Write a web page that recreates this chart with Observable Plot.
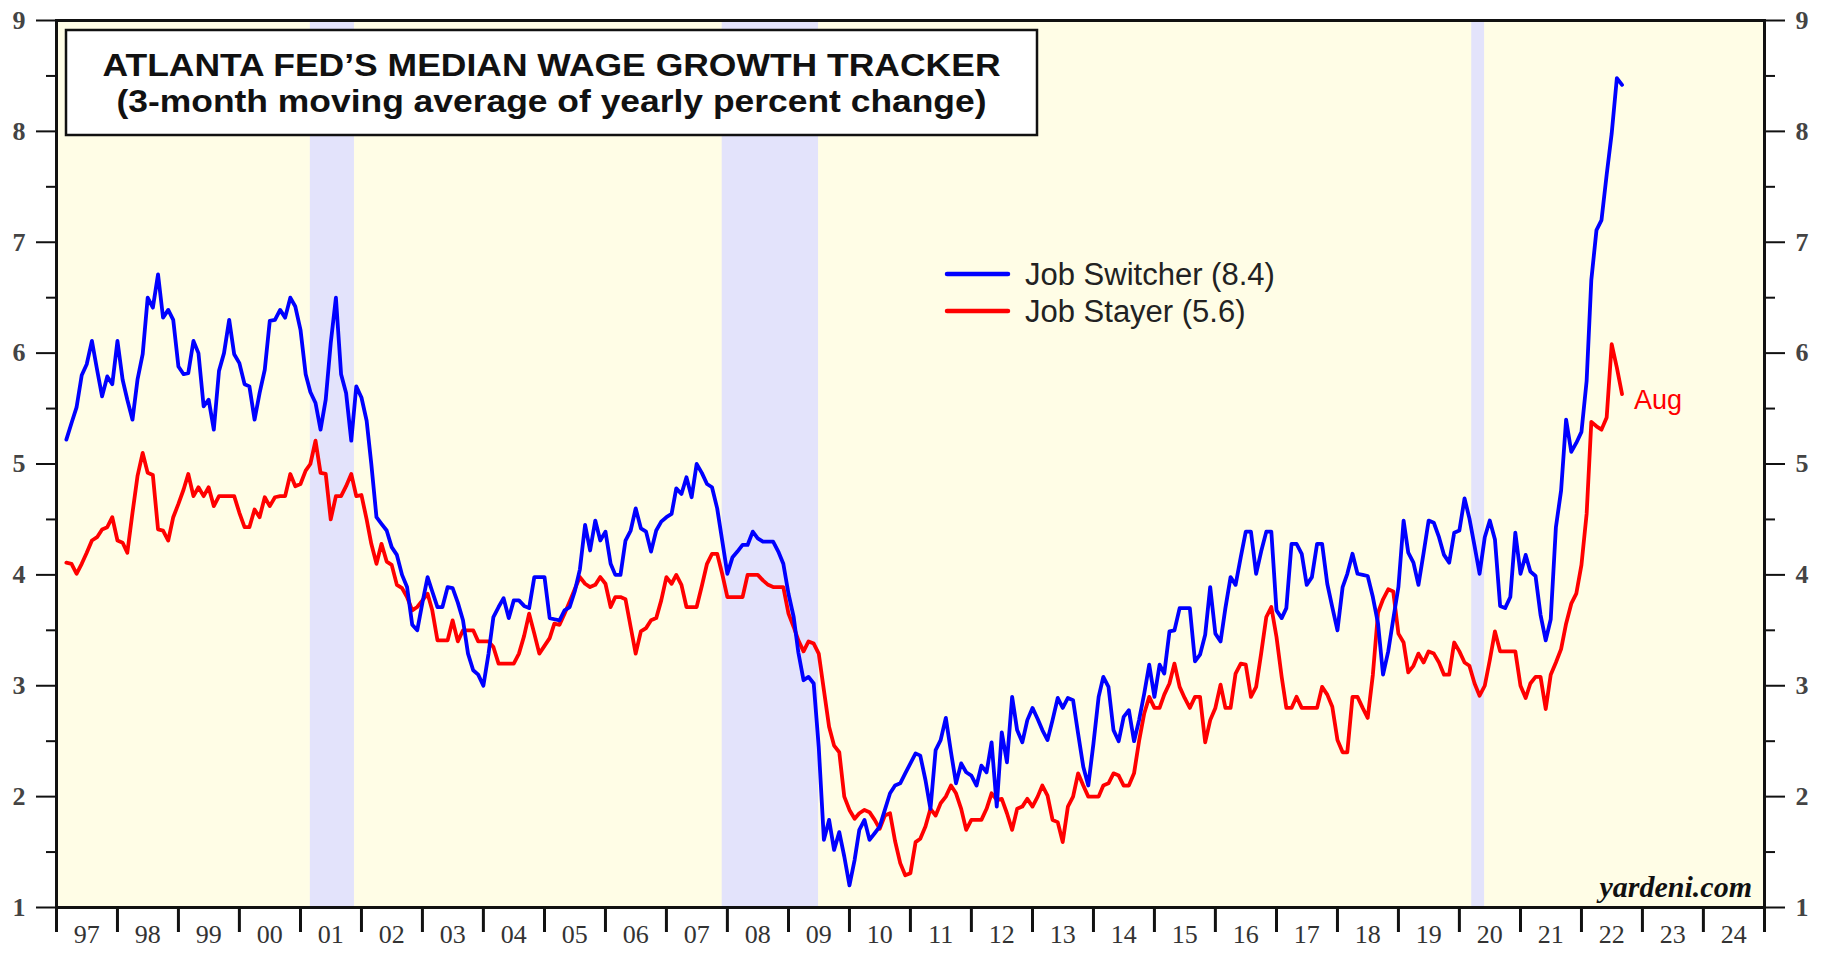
<!DOCTYPE html>
<html>
<head>
<meta charset="utf-8">
<script src="https://cdn.jsdelivr.net/npm/d3@7"></script>
<script src="https://cdn.jsdelivr.net/npm/@observablehq/plot@0.6"></script>
<style>
  body { margin: 0; background: #ffffff; }
  #wrap { position: relative; width: 1822px; height: 953px; }
  #wrap svg { display: block; }
</style>
</head>
<body>
<div id="wrap"><div id="chart"></div></div>
<script>
// ---------------- data (monthly, Feb 1997 – Aug 2022) ----------------
const firstMonth = "1997-02";
const jobSwitcher = [
  // 1997 (Feb–Dec)
  5.22, 5.37, 5.51, 5.80, 5.90, 6.11, 5.85, 5.61, 5.79, 5.72, 6.11,
  // 1998
  5.76, 5.58, 5.40, 5.76, 5.99, 6.50, 6.41, 6.71, 6.32, 6.39, 6.30, 5.88,
  // 1999
  5.81, 5.82, 6.11, 6.00, 5.52, 5.58, 5.31, 5.84, 6.00, 6.30, 5.99, 5.91,
  // 2000
  5.72, 5.70, 5.40, 5.64, 5.85, 6.29, 6.30, 6.39, 6.32, 6.50, 6.42, 6.21,
  // 2001
  5.81, 5.65, 5.55, 5.31, 5.58, 6.09, 6.50, 5.81, 5.64, 5.21, 5.70, 5.60,
  // 2002
  5.39, 5.00, 4.52, 4.46, 4.40, 4.25, 4.18, 4.00, 3.89, 3.55, 3.50, 3.75,
  // 2003
  3.98, 3.85, 3.71, 3.71, 3.89, 3.88, 3.75, 3.59, 3.29, 3.14, 3.10, 3.00,
  // 2004
  3.29, 3.62, 3.71, 3.79, 3.61, 3.77, 3.77, 3.72, 3.70, 3.98, 3.98, 3.98,
  // 2005
  3.61, 3.60, 3.59, 3.68, 3.71, 3.85, 4.05, 4.45, 4.22, 4.49, 4.31, 4.39,
  // 2006
  4.10, 4.00, 4.00, 4.31, 4.40, 4.60, 4.42, 4.39, 4.21, 4.40, 4.48, 4.52,
  // 2007
  4.55, 4.78, 4.73, 4.88, 4.70, 5.00, 4.92, 4.82, 4.79, 4.60, 4.31, 4.01,
  // 2008
  4.16, 4.21, 4.27, 4.27, 4.39, 4.33, 4.30, 4.30, 4.30, 4.21, 4.10, 3.83,
  // 2009
  3.62, 3.30, 3.05, 3.08, 3.02, 2.45, 1.61, 1.79, 1.52, 1.68, 1.46, 1.20,
  // 2010
  1.43, 1.70, 1.79, 1.61, 1.67, 1.73, 1.88, 2.03, 2.10, 2.12, 2.21, 2.30,
  // 2011
  2.39, 2.37, 2.15, 1.89, 2.42, 2.51, 2.71, 2.40, 2.12, 2.30, 2.22, 2.19,
  // 2012
  2.10, 2.28, 2.22, 2.49, 1.91, 2.58, 2.31, 2.90, 2.60, 2.49, 2.69, 2.80,
  // 2013
  2.70, 2.60, 2.51, 2.69, 2.89, 2.80, 2.89, 2.87, 2.57, 2.27, 2.10, 2.48,
  // 2014
  2.90, 3.08, 2.99, 2.60, 2.50, 2.72, 2.78, 2.50, 2.69, 2.93, 3.19, 2.90,
  // 2015
  3.19, 3.11, 3.49, 3.50, 3.70, 3.70, 3.70, 3.22, 3.28, 3.46, 3.89, 3.47,
  // 2016
  3.40, 3.70, 3.98, 3.91, 4.16, 4.39, 4.39, 4.01, 4.21, 4.39, 4.39, 3.68,
  // 2017
  3.61, 3.70, 4.28, 4.28, 4.19, 3.91, 3.98, 4.28, 4.28, 3.92, 3.71, 3.50,
  // 2018
  3.89, 4.01, 4.19, 4.01, 4.00, 3.99, 3.80, 3.56, 3.10, 3.31, 3.60, 3.89,
  // 2019
  4.49, 4.20, 4.11, 3.91, 4.20, 4.49, 4.47, 4.34, 4.18, 4.11, 4.38, 4.40,
  // 2020
  4.69, 4.51, 4.26, 4.01, 4.34, 4.49, 4.32, 3.72, 3.70, 3.80, 4.38, 4.01,
  // 2021
  4.18, 4.03, 3.99, 3.64, 3.41, 3.60, 4.43, 4.76, 5.40, 5.11, 5.19, 5.29,
  // 2022 (Jan–Aug)
  5.75, 6.66, 7.11, 7.20, 7.61, 7.98, 8.48, 8.42
];
const jobStayer = [
  // 1997 (Feb–Dec)
  4.11, 4.10, 4.01, 4.10, 4.20, 4.31, 4.34, 4.41, 4.43, 4.52, 4.31,
  // 1998
  4.29, 4.20, 4.56, 4.89, 5.10, 4.92, 4.90, 4.41, 4.40, 4.31, 4.52, 4.64,
  // 1999
  4.77, 4.91, 4.71, 4.79, 4.71, 4.79, 4.62, 4.71, 4.71, 4.71, 4.71, 4.56,
  // 2000
  4.43, 4.43, 4.59, 4.52, 4.70, 4.62, 4.70, 4.71, 4.71, 4.91, 4.80, 4.82,
  // 2001
  4.94, 5.00, 5.21, 4.92, 4.91, 4.50, 4.71, 4.71, 4.80, 4.91, 4.71, 4.72,
  // 2002
  4.50, 4.28, 4.10, 4.28, 4.12, 4.09, 3.91, 3.88, 3.80, 3.68, 3.71, 3.77,
  // 2003
  3.83, 3.68, 3.41, 3.41, 3.41, 3.59, 3.40, 3.50, 3.50, 3.50, 3.40, 3.40,
  // 2004
  3.40, 3.35, 3.20, 3.20, 3.20, 3.20, 3.29, 3.45, 3.65, 3.47, 3.29, 3.36,
  // 2005
  3.43, 3.56, 3.55, 3.65, 3.76, 3.87, 3.98, 3.92, 3.89, 3.91, 3.98, 3.92,
  // 2006
  3.71, 3.80, 3.80, 3.78, 3.53, 3.29, 3.49, 3.52, 3.59, 3.61, 3.77, 3.98,
  // 2007
  3.92, 4.00, 3.91, 3.71, 3.71, 3.71, 3.90, 4.10, 4.19, 4.19, 4.01, 3.80,
  // 2008
  3.80, 3.80, 3.80, 4.00, 4.00, 4.00, 3.95, 3.91, 3.89, 3.89, 3.89, 3.65,
  // 2009
  3.53, 3.41, 3.31, 3.40, 3.38, 3.29, 2.96, 2.63, 2.46, 2.40, 2.00, 1.88,
  // 2010
  1.80, 1.85, 1.88, 1.86, 1.79, 1.71, 1.83, 1.85, 1.60, 1.40, 1.29, 1.31,
  // 2011
  1.59, 1.62, 1.73, 1.89, 1.83, 1.94, 2.00, 2.10, 2.03, 1.89, 1.70, 1.79,
  // 2012
  1.79, 1.79, 1.89, 2.03, 1.97, 1.98, 1.85, 1.70, 1.89, 1.91, 1.98, 1.91,
  // 2013
  2.00, 2.10, 2.01, 1.79, 1.77, 1.59, 1.91, 2.00, 2.21, 2.10, 2.00, 2.00,
  // 2014
  2.00, 2.10, 2.12, 2.21, 2.19, 2.10, 2.10, 2.21, 2.50, 2.75, 2.90, 2.80,
  // 2015
  2.80, 2.92, 3.02, 3.20, 2.99, 2.89, 2.80, 2.90, 2.90, 2.49, 2.69, 2.80,
  // 2016
  3.01, 2.80, 2.80, 3.11, 3.20, 3.19, 2.90, 2.99, 3.29, 3.62, 3.71, 3.44,
  // 2017
  3.08, 2.80, 2.80, 2.90, 2.80, 2.80, 2.80, 2.80, 2.99, 2.92, 2.81, 2.51,
  // 2018
  2.40, 2.40, 2.90, 2.90, 2.80, 2.71, 3.10, 3.66, 3.78, 3.87, 3.85, 3.47,
  // 2019
  3.39, 3.12, 3.18, 3.29, 3.21, 3.31, 3.29, 3.21, 3.10, 3.10, 3.39, 3.31,
  // 2020
  3.21, 3.18, 3.02, 2.91, 3.00, 3.23, 3.49, 3.31, 3.31, 3.31, 3.31, 3.00,
  // 2021
  2.89, 3.02, 3.08, 3.08, 2.79, 3.10, 3.21, 3.33, 3.56, 3.74, 3.83, 4.09,
  // 2022 (Jan–Aug)
  4.55, 5.38, 5.34, 5.31, 5.42, 6.08, 5.87, 5.63
];
const seriesNames = ["Job Switcher", "Job Stayer"];
const latestValues = ["8.4", "5.6"];
const lastMonthLabel = "Aug";

const recessionStart = ["2001-03-01", "2007-12-01", "2020-03-15"];
const recessionEnd   = ["2001-11-20", "2009-06-30", "2020-05-31"];

const years = d3.range(1997, 2025);               // 1997 … 2024
const yearLabels = ["97","98","99","00","01","02","03","04","05","06","07","08","09","10",
                    "11","12","13","14","15","16","17","18","19","20","21","22","23","24"];
const yMajor = [1, 2, 3, 4, 5, 6, 7, 8, 9];
const yMinor = [1.5, 2.5, 3.5, 4.5, 5.5, 6.5, 7.5, 8.5];

const titleLines = ["ATLANTA FED\u2019S MEDIAN WAGE GROWTH TRACKER",
                    "(3-month moving average of yearly percent change)"];
const sourceText = "yardeni.com";

// ---------------- build tables ----------------
const start = d3.utcParse("%Y-%m")(firstMonth);
// each month's value is plotted at month end
const toRows = arr => arr.map((v, i) => ({date: d3.utcMonth.offset(start, i + 1), value: v}));
const switcherRows = toRows(jobSwitcher);
const stayerRows = toRows(jobStayer);
const parseDay = d3.utcParse("%Y-%m-%d");
const recessions = recessionStart.map((s, i) => ({start: parseDay(s), end: parseDay(recessionEnd[i])}));
const yearStarts = d3.range(1997, 2026).map(y => new Date(Date.UTC(y, 0, 1)));
const yearMids = years.map(y => new Date(Date.UTC(y, 6, 1)));

const BG = "#FFFDE6", SHADE = "#E3E3FB", BLUE = "#0000FF", RED = "#FF0000", INK = "#111";
const tickFont = {fontFamily: "Liberation Serif, serif", fontSize: 26, fill: "#333"};

const chart = Plot.plot({
  width: 1822,
  height: 953,
  marginLeft: 56,
  marginRight: 58,
  marginTop: 20,
  marginBottom: 46,
  style: {fontFamily: "Liberation Serif, serif", fontSize: "26px", background: "transparent", color: "#333"},
  x: {type: "utc", domain: [new Date(Date.UTC(1997, 0, 1)), new Date(Date.UTC(2025, 0, 1))], axis: null},
  y: {domain: [1, 9], axis: null},
  marks: [
    Plot.frame({fill: BG, stroke: "none"}),
    Plot.rect(recessions, {x1: "start", x2: "end", fill: SHADE}),
    Plot.line(stayerRows, {x: "date", y: "value", stroke: RED, strokeWidth: 3.8, strokeLinejoin: "round"}),
    Plot.line(switcherRows, {x: "date", y: "value", stroke: BLUE, strokeWidth: 3.8, strokeLinejoin: "round"}),
    Plot.text(stayerRows.slice(-1), {x: "date", y: "value", text: () => lastMonthLabel, fill: RED,
      textAnchor: "start", dx: 12, dy: 6, fontSize: 27, fontFamily: "Liberation Sans, Arial, sans-serif"}),
    // x axis: year boundary ticks, then mid-year labels
    Plot.axisX(yearStarts, {anchor: "bottom", tickSize: 25, tickFormat: () => "", stroke: INK, strokeWidth: 3, label: null}),
    Plot.axisX(yearMids, {anchor: "bottom", tickSize: 0, tickPadding: 17, label: null,
      tickFormat: d => yearLabels[years.indexOf(d.getUTCFullYear())], ...tickFont}),
    // y axes, both sides
    Plot.axisY(yMajor, {anchor: "left", tickSize: 20, tickPadding: 11, strokeWidth: 2, stroke: INK, label: null,
      tickFormat: d => String(d), ...tickFont, fontWeight: "bold", fill: "#444"}),
    Plot.axisY(yMinor, {anchor: "left", tickSize: 10, strokeWidth: 2, stroke: INK, label: null, tickFormat: () => ""}),
    Plot.axisY(yMajor, {anchor: "right", tickSize: 20, tickPadding: 11, strokeWidth: 2, stroke: INK, label: null,
      tickFormat: d => String(d), ...tickFont, fontWeight: "bold", fill: "#444"}),
    Plot.axisY(yMinor, {anchor: "right", tickSize: 10, strokeWidth: 2, stroke: INK, label: null, tickFormat: () => ""}),
    Plot.frame({stroke: INK, strokeWidth: 3})
  ]
});
document.getElementById("chart").appendChild(chart);

// ---------------- overlay: title box, legend, source ----------------
const ov = d3.select("#wrap").append("svg")
  .attr("width", 1822).attr("height", 953)
  .style("position", "absolute").style("left", "0px").style("top", "0px")
  .style("pointer-events", "none");

ov.append("rect").attr("x", 66).attr("y", 30).attr("width", 971).attr("height", 105)
  .attr("fill", "#fff").attr("stroke", INK).attr("stroke-width", 2.5);
const titleWidths = [898, 870];
ov.selectAll("text.title").data(titleLines).join("text")
  .attr("class", "title")
  .attr("x", 551.5).attr("y", (d, i) => i === 0 ? 76 : 112)
  .attr("text-anchor", "middle")
  .attr("textLength", (d, i) => titleWidths[i])
  .attr("lengthAdjust", "spacingAndGlyphs")
  .attr("font-family", "Liberation Sans, Arial, sans-serif")
  .attr("font-weight", "bold").attr("font-size", 31).attr("fill", "#111")
  .text(d => d);

const legendColors = [BLUE, RED];
const lg = ov.append("g");
seriesNames.forEach((name, i) => {
  const y = 274 + i * 37;
  lg.append("line").attr("x1", 947).attr("x2", 1008).attr("y1", y).attr("y2", y)
    .attr("stroke", legendColors[i]).attr("stroke-width", 4.5).attr("stroke-linecap", "round");
  lg.append("text").attr("x", 1025).attr("y", y + 11)
    .attr("font-family", "Liberation Sans, Arial, sans-serif").attr("font-size", 31).attr("fill", "#222")
    .text(`${name} (${latestValues[i]})`);
});

ov.append("text").attr("x", 1752).attr("y", 897).attr("text-anchor", "end")
  .attr("font-family", "Liberation Serif, serif").attr("font-style", "italic").attr("font-weight", "bold")
  .attr("font-size", 30).attr("fill", "#111")
  .text(sourceText);
</script>
</body>
</html>
